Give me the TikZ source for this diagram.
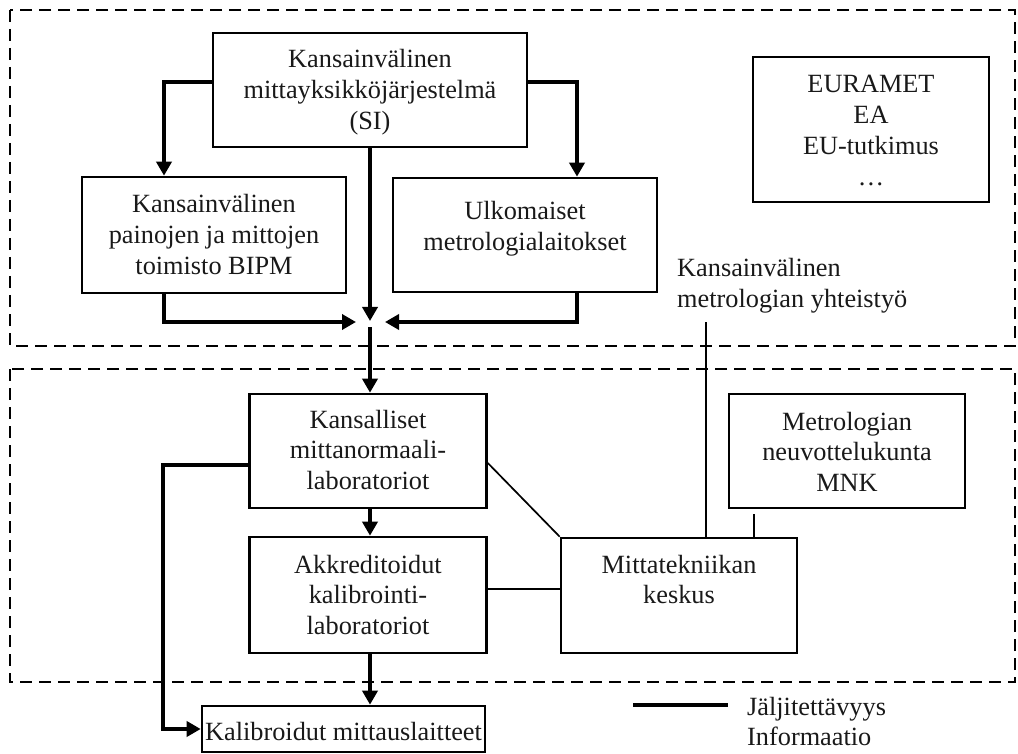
\documentclass[tikz,border=0pt]{standalone}
\usepackage{fontspec}
\setmainfont{Liberation Serif}
\usetikzlibrary{arrows.meta}
\newcommand\ctext[1]{\begin{tabular}[t]{@{}c@{}}#1\end{tabular}}
\newcommand\ltext[1]{\begin{tabular}[t]{@{}l@{}}#1\end{tabular}}
\begin{document}
\begin{tikzpicture}[x=1pt,y=-1pt,
  box/.style={draw, line width=2.6pt, inner sep=0pt},
  txt/.style={inner sep=0pt, font=\fontsize{26.3}{30.8}\selectfont, text=black!90},
  arr/.style={line width=4pt, -{Triangle[length=14pt,width=15pt]}},
  thickline/.style={line width=4pt},
  thinline/.style={line width=1.7pt},
  dashbox/.style={line width=2.6pt, dash pattern=on 12pt off 7pt}]
\useasboundingbox (0,0) rectangle (1018,754);

% dashed regions
\draw[dashbox] (10,10) rectangle (1015,346);
\draw[dashbox] (10,369) rectangle (1015,682);

% boxes
\node[box, minimum width=314pt, minimum height=114pt] (si) at (370,90) {};
\node[box, minimum width=264pt, minimum height=116pt] (bipm) at (214,235) {};
\node[box, minimum width=264pt, minimum height=114pt] (ulk) at (525,235) {};
\node[box, minimum width=236pt, minimum height=145pt] (eur) at (871,129.5) {};
\node[box, minimum width=237pt, minimum height=114pt] (kans) at (368,451) {};
\node[box, minimum width=237pt, minimum height=116pt] (akk) at (368,595) {};
\node[box, minimum width=236pt, minimum height=115pt] (mtk) at (679,595.5) {};
\node[box, minimum width=236pt, minimum height=114pt] (mnk) at (847,451) {};
\node[box, minimum width=283pt, minimum height=46pt] (kal) at (343.5,729) {};

% texts
\node[txt, anchor=base] (si-t) at (370,68) {\ctext{Kansainvälinen\\mittayksikköjärjestelmä\\(SI)}};
\node[txt, anchor=base] (bipm-t) at (214,213) {\ctext{Kansainvälinen\\painojen ja mittojen\\toimisto BIPM}};
\node[txt, anchor=base] (ulk-t) at (525,220) {\ctext{Ulkomaiset\\metrologialaitokset}};
\node[txt, anchor=base] (eur-t) at (871,93) {\ctext{EURAMET\\EA\\EU-tutkimus\\\dots}};
\node[txt, anchor=base] (kans-t) at (368,428) {\ctext{Kansalliset\\mittanormaali-\\laboratoriot}};
\node[txt, anchor=base] (akk-t) at (368,573) {\ctext{Akkreditoidut\\kalibrointi-\\laboratoriot}};
\node[txt, anchor=base] (mtk-t) at (679,573) {\ctext{Mittatekniikan\\keskus}};
\node[txt, anchor=base] (mnk-t) at (847,430) {\ctext{Metrologian\\neuvottelukunta\\MNK}};
\node[txt, anchor=base] (kal-t) at (343.5,740) {Kalibroidut mittauslaitteet};
\node[txt, anchor=base west] (kmy-t) at (677,277) {\ltext{Kansainvälinen\\metrologian yhteistyö}};
\node[txt, anchor=base west] (leg-t) at (747,715) {\ltext{Jäljitettävyys\\Informaatio}};

% junction coordinates
\coordinate (jn) at (370,321);
\coordinate (jw) at (356,322);
\coordinate (je) at (385,322);
\coordinate (js) at (370,327);
\coordinate (kmy) at (706,322);
\coordinate (lg1) at (633,705);
\coordinate (lg2) at (728,705);

% traceability arrows
\draw[arr] ([yshift=8pt]si.west) -| ([xshift=-50pt]bipm.north);
\draw[arr] ([yshift=8pt]si.east) -| ([xshift=52pt]ulk.north);
\draw[arr] (si.south) -- (jn);
\draw[arr] ([xshift=-50pt]bipm.south) |- (jw);
\draw[arr] ([xshift=52pt]ulk.south) |- (je);
\draw[arr] (js) -- (js |- kans.north);
\draw[arr] (kans.south -| js) -- (akk.north -| js);
\draw[arr] (akk.south -| js) -- (kal.north -| js);
\draw[arr] ([yshift=-14pt]kans.west) -| ([xshift=-38pt]kal.west) -- (kal.west);

% information lines
\draw[thinline] ([yshift=-12pt]kans.east) -- (mtk.north west);
\draw[thinline] ([yshift=6pt]akk.east) -- ([yshift=6pt]akk.east -| mtk.west);
\draw[thinline] (kmy) -- (kmy |- mtk.north);
\coordinate (mnkb) at ([xshift=-93pt,yshift=-5pt]mnk.south);
\draw[thinline] (mnkb) -- (mnkb |- mtk.north);

% legend
\draw[thickline] (lg1) -- (lg2);
\end{tikzpicture}
\end{document}
